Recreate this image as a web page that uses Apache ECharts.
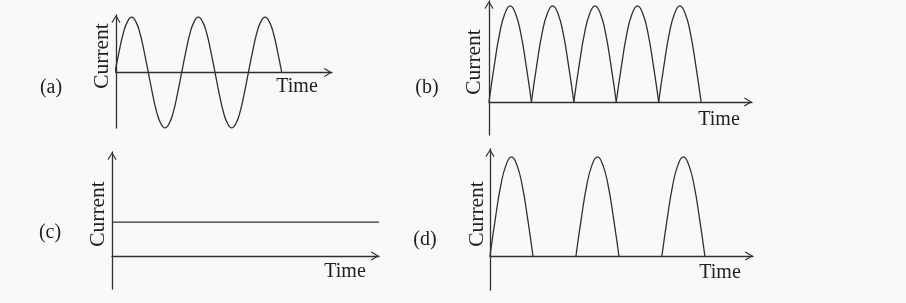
<!DOCTYPE html>
<html><head><meta charset="utf-8">
<script src="https://cdn.jsdelivr.net/npm/echarts@6/dist/echarts.min.js"></script>
<style>html,body{margin:0;padding:0;background:#f9f9f7}#c{width:906px;height:303px}</style>
</head><body><div id="c"></div><script>
// (a) alternating current, read at every 1/16 of a period
const timeA = [0,1,2,3,4,5,6,7,8,9,10,11,12,13,14,15,16,17,18,19,20,21,22,23,24,25,26,27,28,29,30,31,32,33,34,35,36,37,38,39,40];
const currentA = [0,0.38,0.71,0.92,1,0.92,0.71,0.38,0,-0.38,-0.71,-0.92,-1,-0.92,-0.71,-0.38,
                  0,0.38,0.71,0.92,1,0.92,0.71,0.38,0,-0.38,-0.71,-0.92,-1,-0.92,-0.71,-0.38,
                  0,0.38,0.71,0.92,1,0.92,0.71,0.38,0];
// one hump (half cycle), read at every 1/8 of its width
const humpTime = [0,0.125,0.25,0.375,0.5,0.625,0.75,0.875,1];
const humpCurrent = [0,0.38,0.71,0.92,1,0.92,0.71,0.38,0];
// (b) full-wave rectified: humps start at these times
const humpStartsB = [0,1,2,3,4];
// (d) half-wave rectified: humps start at these times
const humpStartsD = [0,2,4];
// (c) steady direct current
const timeC = [0,10];
const currentC = [1,1];
const panelLabels = ['(a)','(b)','(c)','(d)'];
const xName = 'Time';
const yName = 'Current';

const ink = '#303030';
const arrowPath = 'path://M5,0L10,8.2L9,9L5,2.4L1,9L0,8.2Z';
const font = '20px "Liberation Serif", serif';
const fontY = '21.5px "Liberation Serif", serif';

const grids = [
  {left:116, top:15, width:216, height:113},
  {left:489, top:1, width:263, height:134},
  {left:112, top:152, width:267, height:137},
  {left:490, top:149, width:263, height:141}
];
const xRanges = [[0.25,52.05],[0,6.2],[0,10],[0,6.12]];
const yRanges = [[-1,1.04],[-0.344,1.05],[-0.97,3.06],[-0.343,1.08]];

function axisLine(onZero){
  return {show:true, onZero:onZero, lineStyle:{color:ink, width:1.3},
    symbol:['none', arrowPath], symbolSize:[9,9], symbolOffset:[0,-4]};
}
const xAxis = xRanges.map((r,i)=>({type:'value', gridIndex:i, min:r[0], max:r[1],
  axisLine:axisLine(true), axisTick:{show:false}, axisLabel:{show:false}, splitLine:{show:false}}));
const yAxis = yRanges.map((r,i)=>({type:'value', gridIndex:i, min:r[0], max:r[1],
  axisLine:axisLine(false), axisTick:{show:false}, axisLabel:{show:false}, splitLine:{show:false}}));

const lineStyle = {color:ink, width:1.3};
function lineSeries(idx, data){
  return {type:'line', xAxisIndex:idx, yAxisIndex:idx, data:data, smooth:true,
    showSymbol:false, symbol:'none', lineStyle:lineStyle, itemStyle:{color:ink}, silent:true, animation:false, clip:true};
}
const series = [];
series.push(lineSeries(0, timeA.map((t,i)=>[t, currentA[i]])));
humpStartsB.forEach(s=>series.push(lineSeries(1, humpTime.map((t,i)=>[s+t, humpCurrent[i]]))));
series.push(Object.assign(lineSeries(2, timeC.map((t,i)=>[t, currentC[i]])), {smooth:false}));
humpStartsD.forEach(s=>series.push(lineSeries(3, humpTime.map((t,i)=>[s+t, humpCurrent[i]]))));

function txt(text, x, y, f, opts){
  return Object.assign({type:'text', x:x, y:y, silent:true,
    style:{text:text, font:f, fill:'#1e1e1e', align:'center', verticalAlign:'middle'}}, opts||{});
}
const labelPos = [[51,88],[427,88],[50,233],[425,240]];
const yNamePos = [[102,56],[474,62],[98,214],[477,214]];
const xNamePos = [[297,87],[719,120],[345,272],[720,273]];
const graphic = [];
panelLabels.forEach((l,i)=>{
  graphic.push(txt(l, labelPos[i][0], labelPos[i][1], font));
  graphic.push(txt(yName, yNamePos[i][0], yNamePos[i][1], fontY, {rotation:Math.PI/2}));
  graphic.push(txt(xName, xNamePos[i][0], xNamePos[i][1], font));
});

const chart = echarts.init(document.getElementById('c'), null, {renderer:'canvas'});
chart.setOption({backgroundColor:'#f9f9f7', animation:false, grid:grids, xAxis:xAxis, yAxis:yAxis, series:series, graphic:graphic});
</script></body></html>
